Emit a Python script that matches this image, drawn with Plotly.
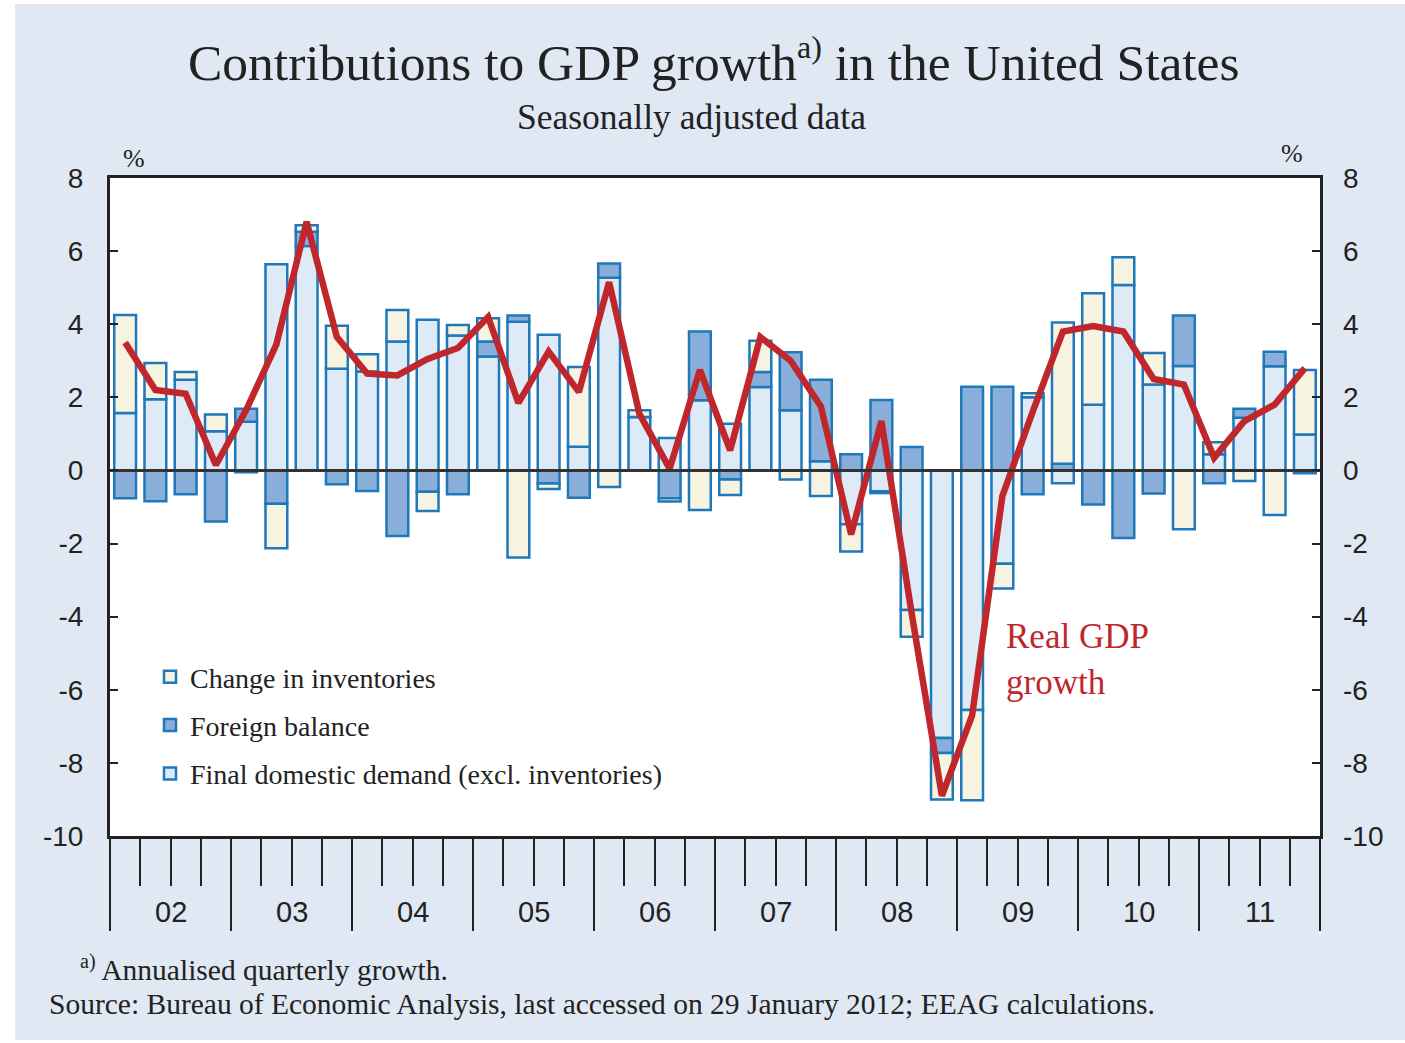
import plotly.graph_objects as go

quarters = [f"{y}Q{q}" for y in range(2002, 2012) for q in range(1, 5)]
years = ["02", "03", "04", "05", "06", "07", "08", "09", "10", "11"]

domestic = [1.57, 1.95, 2.48, 1.07, 1.33, 5.64, 6.14, 2.78, 2.71, 3.53,
            4.12, 3.69, 3.12, 4.07, 3.71, 0.65, 5.27, 1.46, 0.89, 1.92,
            1.28, 2.28, 1.65, 0.25, -1.47, -0.57, -3.82, -7.32, -6.55, -2.55,
            2.00, -0.35, 1.80, 5.07, 2.35, 2.86, 0.44, 1.44, 2.85, 0.98]
foreign = [-0.76, -0.84, -0.65, -1.40, 0.36, -0.91, 0.39, -0.38, -0.56, -1.79,
           -0.58, -0.65, 0.41, 0.17, -0.36, -0.75, 0.39, 0.00, -0.76, 1.88,
           -0.25, 0.41, 1.58, 2.23, 0.44, 1.93, 0.64, -0.41, 2.29, 2.29,
           -0.65, 0.18, -0.93, -1.85, -0.63, 1.38, -0.35, 0.25, 0.40, -0.08]
inventories = [2.68, 0.99, 0.21, 0.46, -0.05, -1.22, 0.18, 1.18, 0.47, 0.86,
               -0.53, 0.29, 0.63, -2.38, -0.15, 2.18, -0.45, 0.19, -0.09, -1.08,
               -0.42, 0.86, -0.25, -0.70, -0.75, -0.05, -0.73, -1.27, -2.47, -0.68,
               0.11, 3.87, 3.05, 0.76, 0.86, -1.61, 0.33, -0.29, -1.22, 1.77]
gdp = [3.50, 2.20, 2.10, 0.15, 1.65, 3.45, 6.80, 3.65, 2.65, 2.60,
       3.05, 3.35, 4.20, 1.85, 3.25, 2.15, 5.15, 1.55, 0.05, 2.75,
       0.55, 3.65, 3.00, 1.75, -1.75, 1.35, -3.90, -8.90, -6.70, -0.70,
       1.60, 3.80, 3.95, 3.80, 2.50, 2.35, 0.35, 1.35, 1.80, 2.80]

y_ticks = [8, 6, 4, 2, 0, -2, -4, -6, -8, -10]

x = list(range(len(quarters)))
OUT = "#1E78B9"
BG = "#E0E8F4"
SERIF = "Liberation Serif, Times New Roman, serif"
SANS = "Liberation Sans, Arial, sans-serif"

fig = go.Figure()
fig.add_trace(go.Bar(x=x, y=domestic, name="Final domestic demand (excl. inventories)",
                     marker=dict(color="#DEEAF5", line=dict(color=OUT, width=2.5)),
                     width=0.72, legendgroup="d", legendrank=3))
fig.add_trace(go.Bar(x=x, y=foreign, name="Foreign balance",
                     marker=dict(color="#8AAEDA", line=dict(color=OUT, width=2.5)),
                     width=0.72, legendgroup="f", legendrank=2))
fig.add_trace(go.Bar(x=x, y=inventories, name="Change in inventories",
                     marker=dict(color="#F6F3E0", line=dict(color=OUT, width=2.5)),
                     width=0.72, legendgroup="i", legendrank=1))
fig.add_trace(go.Scatter(x=x, y=gdp, mode="lines", line=dict(color="#C0272D", width=6.5),
                         showlegend=False, name="Real GDP growth"))

W, H = 1405, 1043
L, R, T, B = 110, 1320, 178, 836
pw, ph = R - L, B - T


def px(v):
    return (v - L) / pw


def py(v):
    return (B - v) / ph


quarter_bounds = [i + 0.5 for i in range(len(quarters) - 1) if (i + 1) % 4 != 0]
year_bounds = [-0.5 + 4 * k for k in range(len(years) + 1)]

fig.update_layout(
    width=W, height=H,
    margin=dict(l=L, r=W - R, t=T, b=H - B),
    paper_bgcolor="white", plot_bgcolor="white",
    barmode="relative", bargap=0.28,
    showlegend=True,
    legend=dict(x=px(150), y=py(652), xanchor="left", yanchor="top",
                traceorder="grouped", tracegroupgap=9,
                font=dict(family=SERIF, size=28, color="#222"),
                bgcolor="rgba(0,0,0,0)", itemwidth=30),
    xaxis=dict(range=[-0.5, 39.5], showgrid=False, zeroline=False,
               showline=True, linecolor="#222", linewidth=3, mirror=True,
               tickmode="array", tickvals=quarter_bounds, showticklabels=False,
               ticks="outside", ticklen=47, tickwidth=2, tickcolor="#222"),
    xaxis2=dict(range=[-0.5, 39.5], overlaying="x", anchor="y", side="bottom",
                showgrid=False, zeroline=False, showline=False,
                tickmode="array", tickvals=year_bounds, showticklabels=False,
                ticks="outside", ticklen=94, tickwidth=2, tickcolor="#222"),
    yaxis=dict(range=[-10, 8], showgrid=False, zeroline=True, zerolinecolor="#333",
               zerolinewidth=2.5, zerolinelayer="above traces",
               showline=True, linecolor="#222", linewidth=3, mirror="allticks",
               tickmode="array", tickvals=y_ticks, ticktext=[str(v) for v in y_ticks],
               ticks="inside", ticklen=8, tickwidth=2, tickcolor="#222",
               ticklabelstandoff=18,
               tickfont=dict(family=SANS, size=28, color="#222")),
    yaxis2=dict(range=[-10, 8], overlaying="y", side="right", anchor="x",
                showgrid=False, zeroline=False, showline=False,
                tickmode="array", tickvals=y_ticks, ticktext=[str(v) for v in y_ticks],
                ticks="", ticklabelstandoff=22,
                tickfont=dict(family=SANS, size=28, color="#222")),
)

# invisible trace to activate secondary axes
fig.add_trace(go.Scatter(x=[None], y=[None], xaxis="x2", yaxis="y2", showlegend=False,
                         hoverinfo="skip"))

# background panel
fig.add_shape(type="rect", xref="paper", yref="paper", x0=px(15), x1=px(1410),
              y0=py(1040), y1=py(4), fillcolor=BG, line=dict(width=0), layer="below")
fig.add_shape(type="rect", xref="paper", yref="paper", x0=0, x1=1, y0=0, y1=1,
              fillcolor="white", line=dict(width=0), layer="below")

ann = []
ann.append(dict(text="Contributions to GDP growth<sup><span style='font-size:32px'>a)</span></sup> in the United States",
                x=px(714), y=py(60), xanchor="center", yanchor="middle",
                font=dict(family=SERIF, size=51.5, color="#222")))
ann.append(dict(text="Seasonally adjusted data", x=px(691), y=py(117),
                xanchor="center", yanchor="middle",
                font=dict(family=SERIF, size=35.5, color="#222")))
ann.append(dict(text="%", x=px(134), y=py(158), xanchor="center", yanchor="middle",
                font=dict(family=SERIF, size=26, color="#222")))
ann.append(dict(text="%", x=px(1292), y=py(153), xanchor="center", yanchor="middle",
                font=dict(family=SERIF, size=26, color="#222")))
ann.append(dict(text="Real GDP<br>growth", x=px(1004), y=py(659), xanchor="left",
                yanchor="middle", align="left",
                font=dict(family=SERIF, size=35, color="#C0272D")))
ann.append(dict(text="<sup><span style='font-size:20px'>a)</span></sup> Annualised quarterly growth.",
                x=px(78), y=py(968), xanchor="left", yanchor="middle",
                font=dict(family=SERIF, size=29.5, color="#222")))
ann.append(dict(text="Source: Bureau of Economic Analysis, last accessed on 29 January 2012; EEAG calculations.",
                x=px(47), y=py(1004), xanchor="left", yanchor="middle",
                font=dict(family=SERIF, size=29.5, color="#222")))
for k, yl in enumerate(years):
    ann.append(dict(text=yl, x=1.5 + 4 * k, xref="x", y=py(912), yref="paper",
                    xanchor="center", yanchor="middle",
                    font=dict(family=SANS, size=29, color="#222")))
for a in ann:
    a.setdefault("xref", "paper")
    a.setdefault("yref", "paper")
    a["showarrow"] = False
fig.update_layout(annotations=ann)

fig.write_html("out.html", config={"displayModeBar": False},
               post_script="document.body.style.margin='0';")
